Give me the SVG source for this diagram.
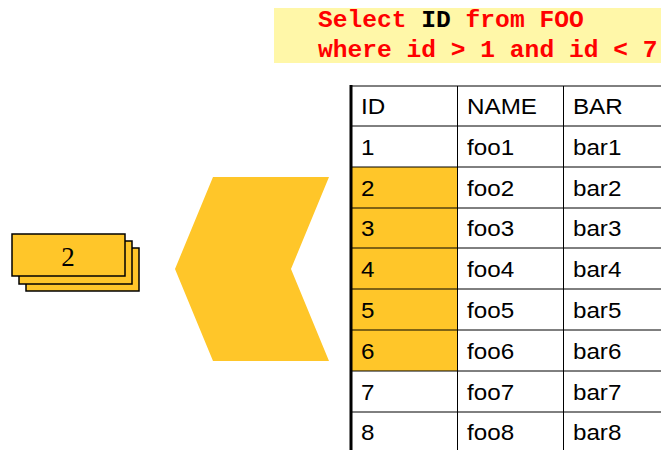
<svg xmlns="http://www.w3.org/2000/svg" width="661" height="450" viewBox="0 0 661 450">
<style>
.sql{font-family:"Liberation Mono",monospace;font-weight:bold;font-size:24.6px;fill:#FF0000}
.cell{font-family:"Liberation Sans",Arial,sans-serif;font-size:22px;fill:#000}
.hl{fill:#FFC629}
.grid{stroke:#000;stroke-width:1}
.card{fill:#FFC629;stroke:#000;stroke-width:1.5}
</style>
<g id="sql">
<rect x="274" y="8" width="387" height="55" fill="#FFF7A8"/>
<text class="sql" x="318" y="27">Select <tspan fill="#000">ID</tspan> from FOO</text>
<text class="sql" x="318" y="57">where id &gt; 1 and id &lt; 7</text>
</g>
<g id="result">
<rect class="card" x="26" y="248" width="113" height="43"/>
<rect class="card" x="19" y="241" width="113" height="43"/>
<rect class="card" x="12" y="234" width="113" height="42"/>
<text x="68" y="266" text-anchor="middle" font-family="Liberation Serif,serif" font-size="27">2</text>
</g>
<g id="connectors">
<polygon points="213,177 329,177 291,269 329,361 213,361 175,269" fill="#FFC629"/>
</g>
<g id="table">
<rect class="hl" x="352" y="167" width="105" height="204"/>
<g class="grid">
<line x1="351" y1="86" x2="661" y2="86"/>
<line x1="351" y1="126" x2="661" y2="126"/>
<line x1="351" y1="167" x2="661" y2="167"/>
<line x1="351" y1="208" x2="661" y2="208"/>
<line x1="351" y1="248" x2="661" y2="248"/>
<line x1="351" y1="289" x2="661" y2="289"/>
<line x1="351" y1="330" x2="661" y2="330"/>
<line x1="351" y1="371" x2="661" y2="371"/>
<line x1="351" y1="412" x2="661" y2="412"/>
<line x1="457.5" y1="86" x2="457.5" y2="450"/>
<line x1="563.5" y1="86" x2="563.5" y2="450"/>
</g>
<line x1="351" y1="85" x2="351" y2="450" stroke="#000" stroke-width="3"/>
<g class="cell" transform="translate(361,0) scale(1.1,1)">
<text x="0" y="114">ID</text><text x="96.4" y="114">NAME</text><text x="192.7" y="114">BAR</text>
<text x="0" y="155">1</text><text x="96.4" y="155">foo1</text><text x="192.7" y="155">bar1</text>
<text x="0" y="196">2</text><text x="96.4" y="196">foo2</text><text x="192.7" y="196">bar2</text>
<text x="0" y="236">3</text><text x="96.4" y="236">foo3</text><text x="192.7" y="236">bar3</text>
<text x="0" y="277">4</text><text x="96.4" y="277">foo4</text><text x="192.7" y="277">bar4</text>
<text x="0" y="318">5</text><text x="96.4" y="318">foo5</text><text x="192.7" y="318">bar5</text>
<text x="0" y="359">6</text><text x="96.4" y="359">foo6</text><text x="192.7" y="359">bar6</text>
<text x="0" y="400">7</text><text x="96.4" y="400">foo7</text><text x="192.7" y="400">bar7</text>
<text x="0" y="440">8</text><text x="96.4" y="440">foo8</text><text x="192.7" y="440">bar8</text>
</g>
</g>
</svg>
